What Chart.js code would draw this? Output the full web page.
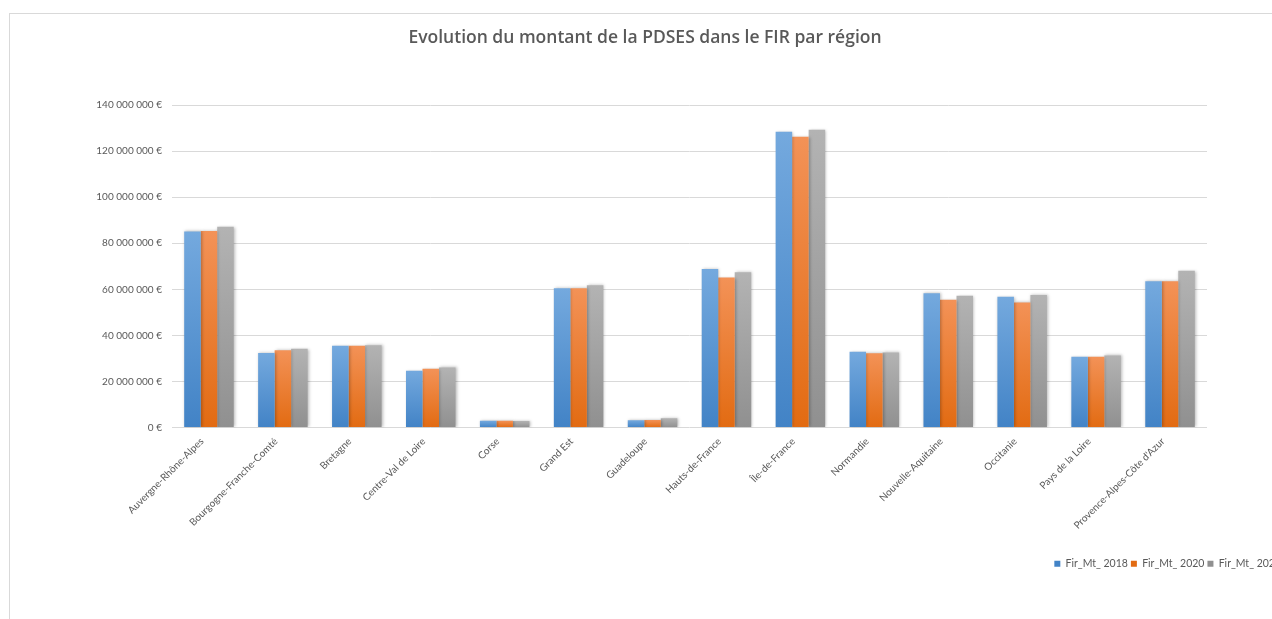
<!DOCTYPE html>
<html>
<head>
<meta charset="utf-8">
<script src="https://cdn.jsdelivr.net/npm/chart.js@4"></script>
<style>
  html, body { margin: 0; padding: 0; background: #fff; overflow: hidden; }
  #frame { position: absolute; left: 9px; top: 13px; width: 1400px; height: 700px;
           border-left: 1px solid #d9d9d9; border-top: 1px solid #d9d9d9; }
  #wrap { position: absolute; left: 0; top: 0; width: 1284px; height: 619px; }
</style>
</head>
<body>
<div id="frame"></div>
<div id="wrap"><canvas id="myChart"></canvas></div>
<script>
var regions = ['Auvergne-Rhône-Alpes', 'Bourgogne-Franche-Comté', 'Bretagne', 'Centre-Val de Loire',
  'Corse', 'Grand Est', 'Guadeloupe', 'Hauts-de-France', 'Île-de-France', 'Normandie',
  'Nouvelle-Aquitaine', 'Occitanie', 'Pays de la Loire', "Provence-Alpes-Côte d'Azur"];
// montants en euros
var fir2018 = [85100000, 32300000, 35500000, 24600000, 2900000, 60400000, 3200000,
  68800000, 128400000, 32900000, 58300000, 56800000, 30700000, 63500000];
var fir2020 = [85300000, 33500000, 35500000, 25500000, 2900000, 60400000, 3300000,
  65100000, 126200000, 32200000, 55500000, 54300000, 30700000, 63500000];
var fir2022 = [87100000, 34200000, 35700000, 26100000, 2800000, 61800000, 4000000,
  67400000, 129300000, 32600000, 57200000, 57500000, 31300000, 68100000];
var yTicks = [0, 20000000, 40000000, 60000000, 80000000, 100000000, 120000000, 140000000];

function formatEuro(v) {
  if (v === 0) return '0 €';
  return String(v).replace(/\B(?=(\d{3})+(?!\d))/g, ' ') + ' €';
}

// degrade vertical par barre, comme dans Excel
function gradient(top, bottom, solid) {
  return function (ctx) {
    var chart = ctx.chart;
    if (!chart.chartArea || ctx.raw === undefined) return solid;
    var y = chart.scales.y;
    var y0 = y.getPixelForValue(ctx.raw);
    var y1 = y.getPixelForValue(0);
    if (!isFinite(y0) || y1 - y0 < 1) return solid;
    var g = chart.ctx.createLinearGradient(0, y0, 0, y1);
    g.addColorStop(0, top);
    g.addColorStop(1, bottom);
    return g;
  };
}

var barShadow = {
  id: 'barShadow',
  beforeDatasetsDraw: function (chart) {
    var c = chart.ctx;
    c.save();
    c.shadowColor = 'rgba(0,0,0,0.28)';
    c.shadowBlur = 3;
    c.shadowOffsetX = 1;
    c.shadowOffsetY = 0;
  },
  afterDatasetsDraw: function (chart) {
    chart.ctx.restore();
  }
};

var grey = '#595959';
Chart.defaults.font.family = 'Lato, "Open Sans", sans-serif';
Chart.defaults.color = grey;

new Chart(document.getElementById('myChart').getContext('2d'), {
  type: 'bar',
  data: {
    labels: regions,
    datasets: [
      { label: 'Fir_Mt_ 2018', data: fir2018,
        backgroundColor: gradient('#74a9de', '#4283c6', '#5b9bd5') },
      { label: 'Fir_Mt_ 2020', data: fir2020,
        backgroundColor: gradient('#f39257', '#e26b12', '#ed7d31') },
      { label: 'Fir_Mt_ 2022', data: fir2022,
        backgroundColor: gradient('#b3b3b3', '#909090', '#a5a5a5') }
    ]
  },
  plugins: [barShadow],
  options: {
    responsive: true,
    maintainAspectRatio: false,
    animation: false,
    categoryPercentage: 0.67,
    barPercentage: 1.0,
    layout: { padding: { left: 6, top: 13, right: 0, bottom: 40 } },
    plugins: {
      title: {
        display: true,
        text: 'Evolution du montant de la PDSES dans le FIR par région',
        color: grey,
        font: { family: '"Open Sans", sans-serif', size: 17.5, weight: '600' },
        padding: { top: 15, bottom: 56 }
      },
      legend: {
        position: 'bottom',
        align: 'end',
        labels: { boxWidth: 6, boxHeight: 6, padding: 3, color: grey, font: { size: 10.5 } }
      },
      tooltip: { enabled: false }
    },
    scales: {
      x: {
        grid: { display: false },
        border: { display: false },
        ticks: { minRotation: 45, maxRotation: 45, autoSkip: false, color: grey,
                 font: { size: 10 }, padding: 0, labelOffset: -7 },
        afterFit: function (s) { s.height = 128; }
      },
      y: {
        min: 0, max: 140000000,
        afterBuildTicks: function (s) { s.ticks = yTicks.map(function (v) { return { value: v }; }); },
        grid: { color: '#d9d9d9', drawTicks: false },
        border: { display: false },
        ticks: { padding: 10, color: grey, font: { size: 10 }, callback: formatEuro },
        afterFit: function (s) { s.width = 166; }
      },
      yRight: {
        position: 'right',
        display: true,
        grid: { display: false, drawTicks: false },
        border: { display: false },
        ticks: { display: false },
        afterFit: function (s) { s.width = 77; }
      }
    }
  }
});
</script>
</body>
</html>
